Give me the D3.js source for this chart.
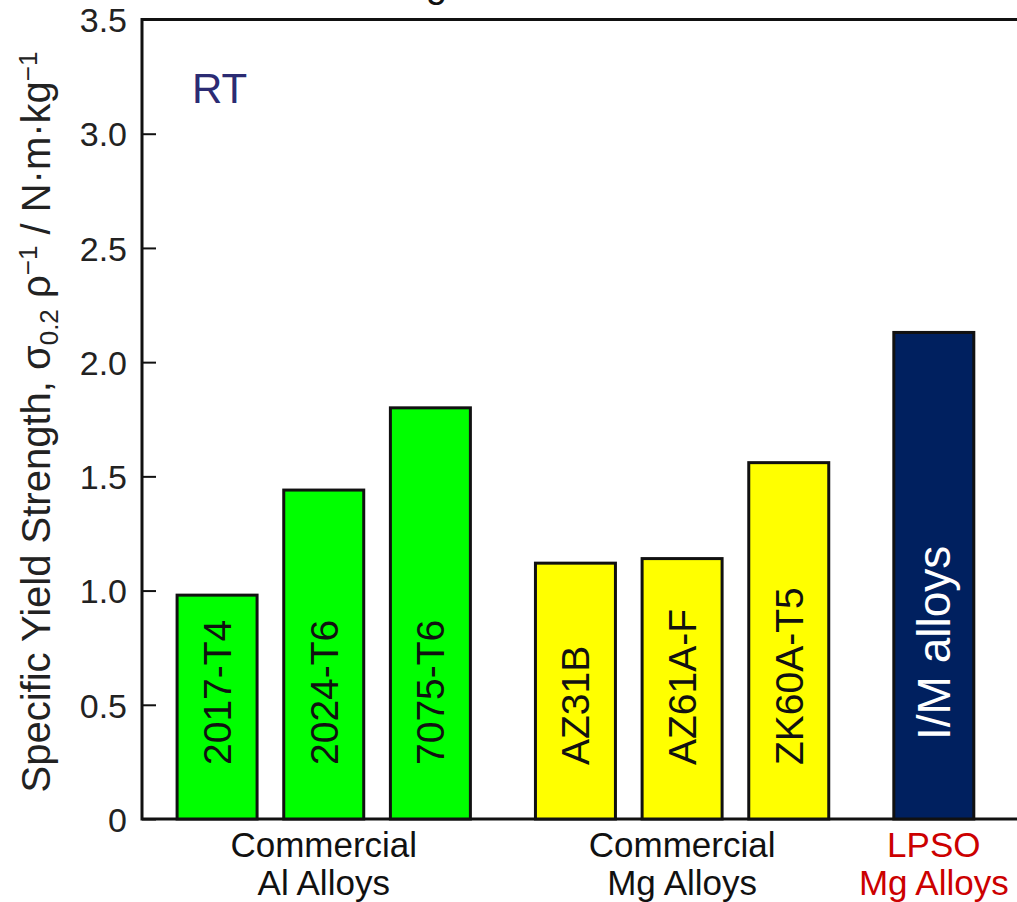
<!DOCTYPE html>
<meta charset="utf-8">
<style>
body { margin: 0; background: #fff; }
svg { display: block; }
text { font-family: "Liberation Sans", Arial, sans-serif; }
.tick text { font-size: 34px; fill: #222; }
.ytitle { font-size: 40px; fill: #222; }
.grp { font-size: 35px; }
</style>
<svg width="1017" height="902"></svg>
<script src="https://d3js.org/d3.v7.min.js"></script>
<script>

// bars, left to right
var alloys   = ["2017-T4", "2024-T6", "7075-T6", "AZ31B", "AZ61A-F", "ZK60A-T5", "I/M alloys"];
var strength = [0.98, 1.44, 1.80, 1.12, 1.14, 1.56, 2.13];
var groupOf  = [0, 0, 0, 1, 1, 1, 2];

// group captions under the axis (two lines each)
var groupLines = [["Commercial", "Al Alloys"], ["Commercial", "Mg Alloys"], ["LPSO", "Mg Alloys"]];
var groupFill  = ["#00ff00", "#ffff00", "#00205f"];
var groupText  = ["#111", "#111", "#cc0000"];

var yTicks = [0, 0.5, 1.0, 1.5, 2.0, 2.5, 3.0, 3.5];

var svg = d3.select("svg"),
    width = +svg.attr("width"),
    height = +svg.attr("height");

var padLeft = 142, padTop = 19.5, baseY = 819;
var groupGap = 0.36;   // extra slot space between groups
var barW = 0.75;       // in slot units

var slot = function(i) { return i + groupOf[i] * groupGap; };

var xScale = d3.scaleLinear()
    .domain([-0.704, 7.5])
    .range([padLeft, width]);

var yScale = d3.scaleLinear()
    .domain([0, 3.5])
    .range([baseY, padTop]);

// y axis with inward ticks
var yAxis = svg.append("g")
    .attr("transform", "translate(" + padLeft + ",0)")
    .call(d3.axisLeft(yScale)
        .tickValues(yTicks)
        .tickSize(-14)
        .tickPadding(15)
        .tickFormat(function(d) { return d === 0 ? "0" : d.toFixed(1); }));
yAxis.select(".domain").remove();
yAxis.selectAll(".tick line").attr("stroke", "#111").attr("stroke-width", 2);
yAxis.selectAll(".tick text").attr("dy", "0.36em");
yAxis.attr("font-family", null).attr("font-size", null);

// frame: left, top, bottom (right side runs off the picture)
svg.append("path")
    .attr("d", "M" + (width + 5) + "," + padTop + "H" + padLeft + "V" + baseY + "H" + (width + 5))
    .attr("fill", "none")
    .attr("stroke", "#111")
    .attr("stroke-width", 3);

// bars
svg.append("g").selectAll("rect")
    .data(strength)
    .enter().append("rect")
    .attr("x", function(d, i) { return xScale(slot(i) - barW / 2); })
    .attr("width", function() { return xScale(barW) - xScale(0); })
    .attr("y", function(d) { return yScale(d); })
    .attr("height", function(d) { return yScale(0) - yScale(d); })
    .attr("fill", function(d, i) { return groupFill[groupOf[i]]; })
    .attr("stroke", "#111")
    .attr("stroke-width", 3);

// labels inside bars, rotated
svg.append("g").selectAll("text")
    .data(alloys)
    .enter().append("text")
    .attr("transform", function(d, i) {
        var big = groupOf[i] == 2;
        var cx = xScale(slot(i)) + (big ? 16 : 14);
        return "translate(" + cx + "," + (big ? 740 : 765) + ") rotate(-90)";
    })
    .attr("font-size", function(d, i) { return groupOf[i] == 2 ? 46 : 39; })
    .attr("fill", function(d, i) { return groupOf[i] == 2 ? "#fff" : "#111"; })
    .text(function(d) { return d; });

// group captions
var groupCenter = groupLines.map(function(g, k) {
    var xs = d3.range(alloys.length).filter(function(i) { return groupOf[i] == k; })
        .map(function(i) { return xScale(slot(i)); });
    return d3.mean(xs);
});
var grp = svg.append("g").selectAll("text")
    .data(groupLines)
    .enter().append("text")
    .attr("class", "grp")
    .attr("text-anchor", "middle")
    .style("fill", function(d, k) { return groupText[k]; })
    .attr("transform", function(d, k) { return "translate(" + groupCenter[k] + ",857)"; });
grp.append("tspan").attr("x", 0).attr("y", 0).text(function(d) { return d[0]; });
grp.append("tspan").attr("x", 0).attr("y", 38).text(function(d) { return d[1]; });

// RT tag
svg.append("text")
    .attr("x", 192)
    .attr("y", 103)
    .attr("font-size", 42)
    .attr("fill", "#2b2b73")
    .text("RT");

// cut-off title (only a descender shows)
svg.append("text")
    .attr("x", 426)
    .attr("y", -3)
    .attr("font-size", 38)
    .attr("fill", "#111")
    .text("g");

// y axis title with sub/superscripts
var yt = svg.append("text")
    .attr("class", "ytitle")
    .attr("text-anchor", "middle")
    .attr("transform", "translate(50,422) rotate(-90)");
yt.append("tspan").text("Specific Yield Strength, \u03c3");
yt.append("tspan").attr("font-size", 26).attr("baseline-shift", "-8").text("0.2");
yt.append("tspan").text(" \u03c1");
yt.append("tspan").attr("font-size", 26).attr("baseline-shift", "13").text("\u22121");
yt.append("tspan").text(" / N\u00b7m\u00b7kg");
yt.append("tspan").attr("font-size", 26).attr("baseline-shift", "13").text("\u22121");

</script>
